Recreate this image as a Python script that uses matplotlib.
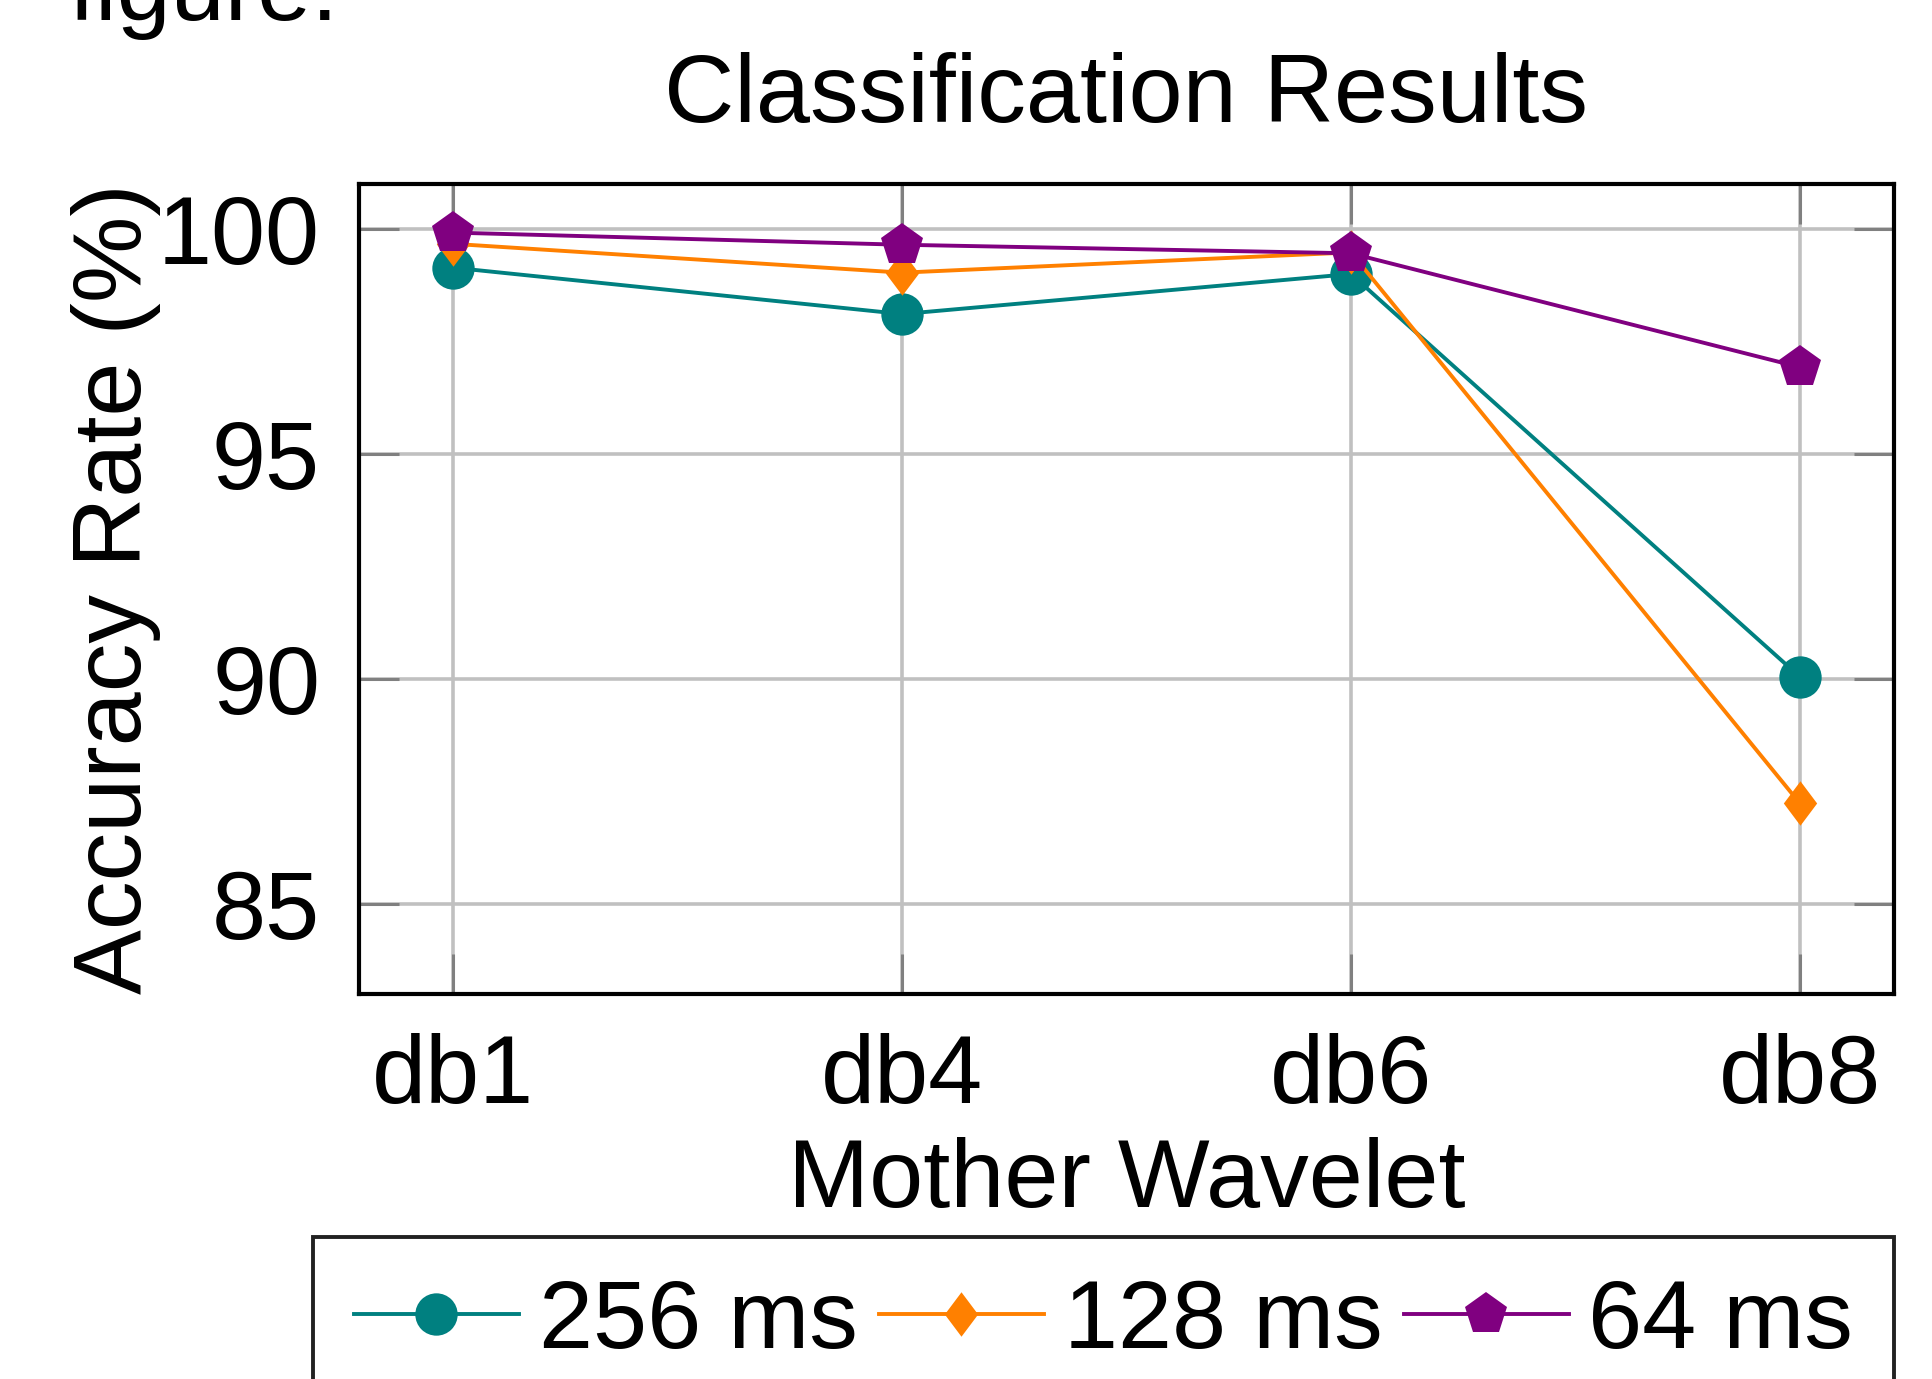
import matplotlib
matplotlib.use('Agg')
import matplotlib.pyplot as plt

plt.rcParams['font.family'] = ['Liberation Sans', 'DejaVu Sans']

wavelets = ['db1', 'db4', 'db6', 'db8']
acc_256 = [99.14, 98.11, 99.00, 90.05]
acc_128 = [99.67, 99.03, 99.48, 87.24]
acc_64 = [99.92, 99.65, 99.46, 96.93]
series_names = ['256 ms', '128 ms', '64 ms']

fs = 70
diamond = [(0, 1), (0.75, 0), (0, -1), (-0.75, 0), (0, 1)]

fig = plt.figure(figsize=(19.33, 13.79), dpi=100)
ax = fig.add_axes([359/1933, 1-994/1379, (1894-359)/1933, (994-184)/1379])

x = list(range(len(wavelets)))
ax.plot(x, acc_256, color='#008080', lw=2.8, marker='o', ms=30.5, mew=0, label=series_names[0], zorder=3)
ax.plot(x, acc_128, color='#ff8000', lw=2.8, marker=diamond, ms=32, mew=0, label=series_names[1], zorder=3)
ax.plot(x, acc_64, color='#800080', lw=2.8, marker='p', ms=32, mew=0, label=series_names[2], zorder=3)

ax.set_xlim(-0.21, 3.21)
ax.set_ylim(83, 101)
ax.set_xticks(x)
ax.set_xticklabels(wavelets)
ax.set_yticks([85, 90, 95, 100])
ax.grid(True, color='#c0c0c0', lw=2.6, zorder=0)
ax.set_axisbelow(True)
ax.tick_params(axis='both', which='major', direction='in', length=29, width=2.2,
               color='#808080', labelsize=fs, pad=28, top=True, right=True)
for s in ax.spines.values():
    s.set_linewidth(3)
    s.set_color('black')
    s.set_zorder(4)

ax.set_title('Classification Results', fontsize=fs, pad=45)
ax.set_xlabel('Mother Wavelet', fontsize=fs, labelpad=10)
ax.set_ylabel('Accuracy Rate (%)', fontsize=fs, labelpad=-2)

fig.text(69/1933, 1-20/1379, 'figure:', fontsize=fs, ha='left', va='baseline')

leg = fig.legend(loc='upper left', bbox_to_anchor=(313/1933, 1-1237/1379), ncol=3,
                 fontsize=fs, frameon=True, fancybox=False, framealpha=1,
                 borderaxespad=0, borderpad=0.42, handlelength=1.7,
                 handletextpad=0.2, columnspacing=0.22)
leg.get_frame().set_edgecolor('#222222')
leg.get_frame().set_linewidth(2.8)

fig.savefig('out.png', dpi=100)
